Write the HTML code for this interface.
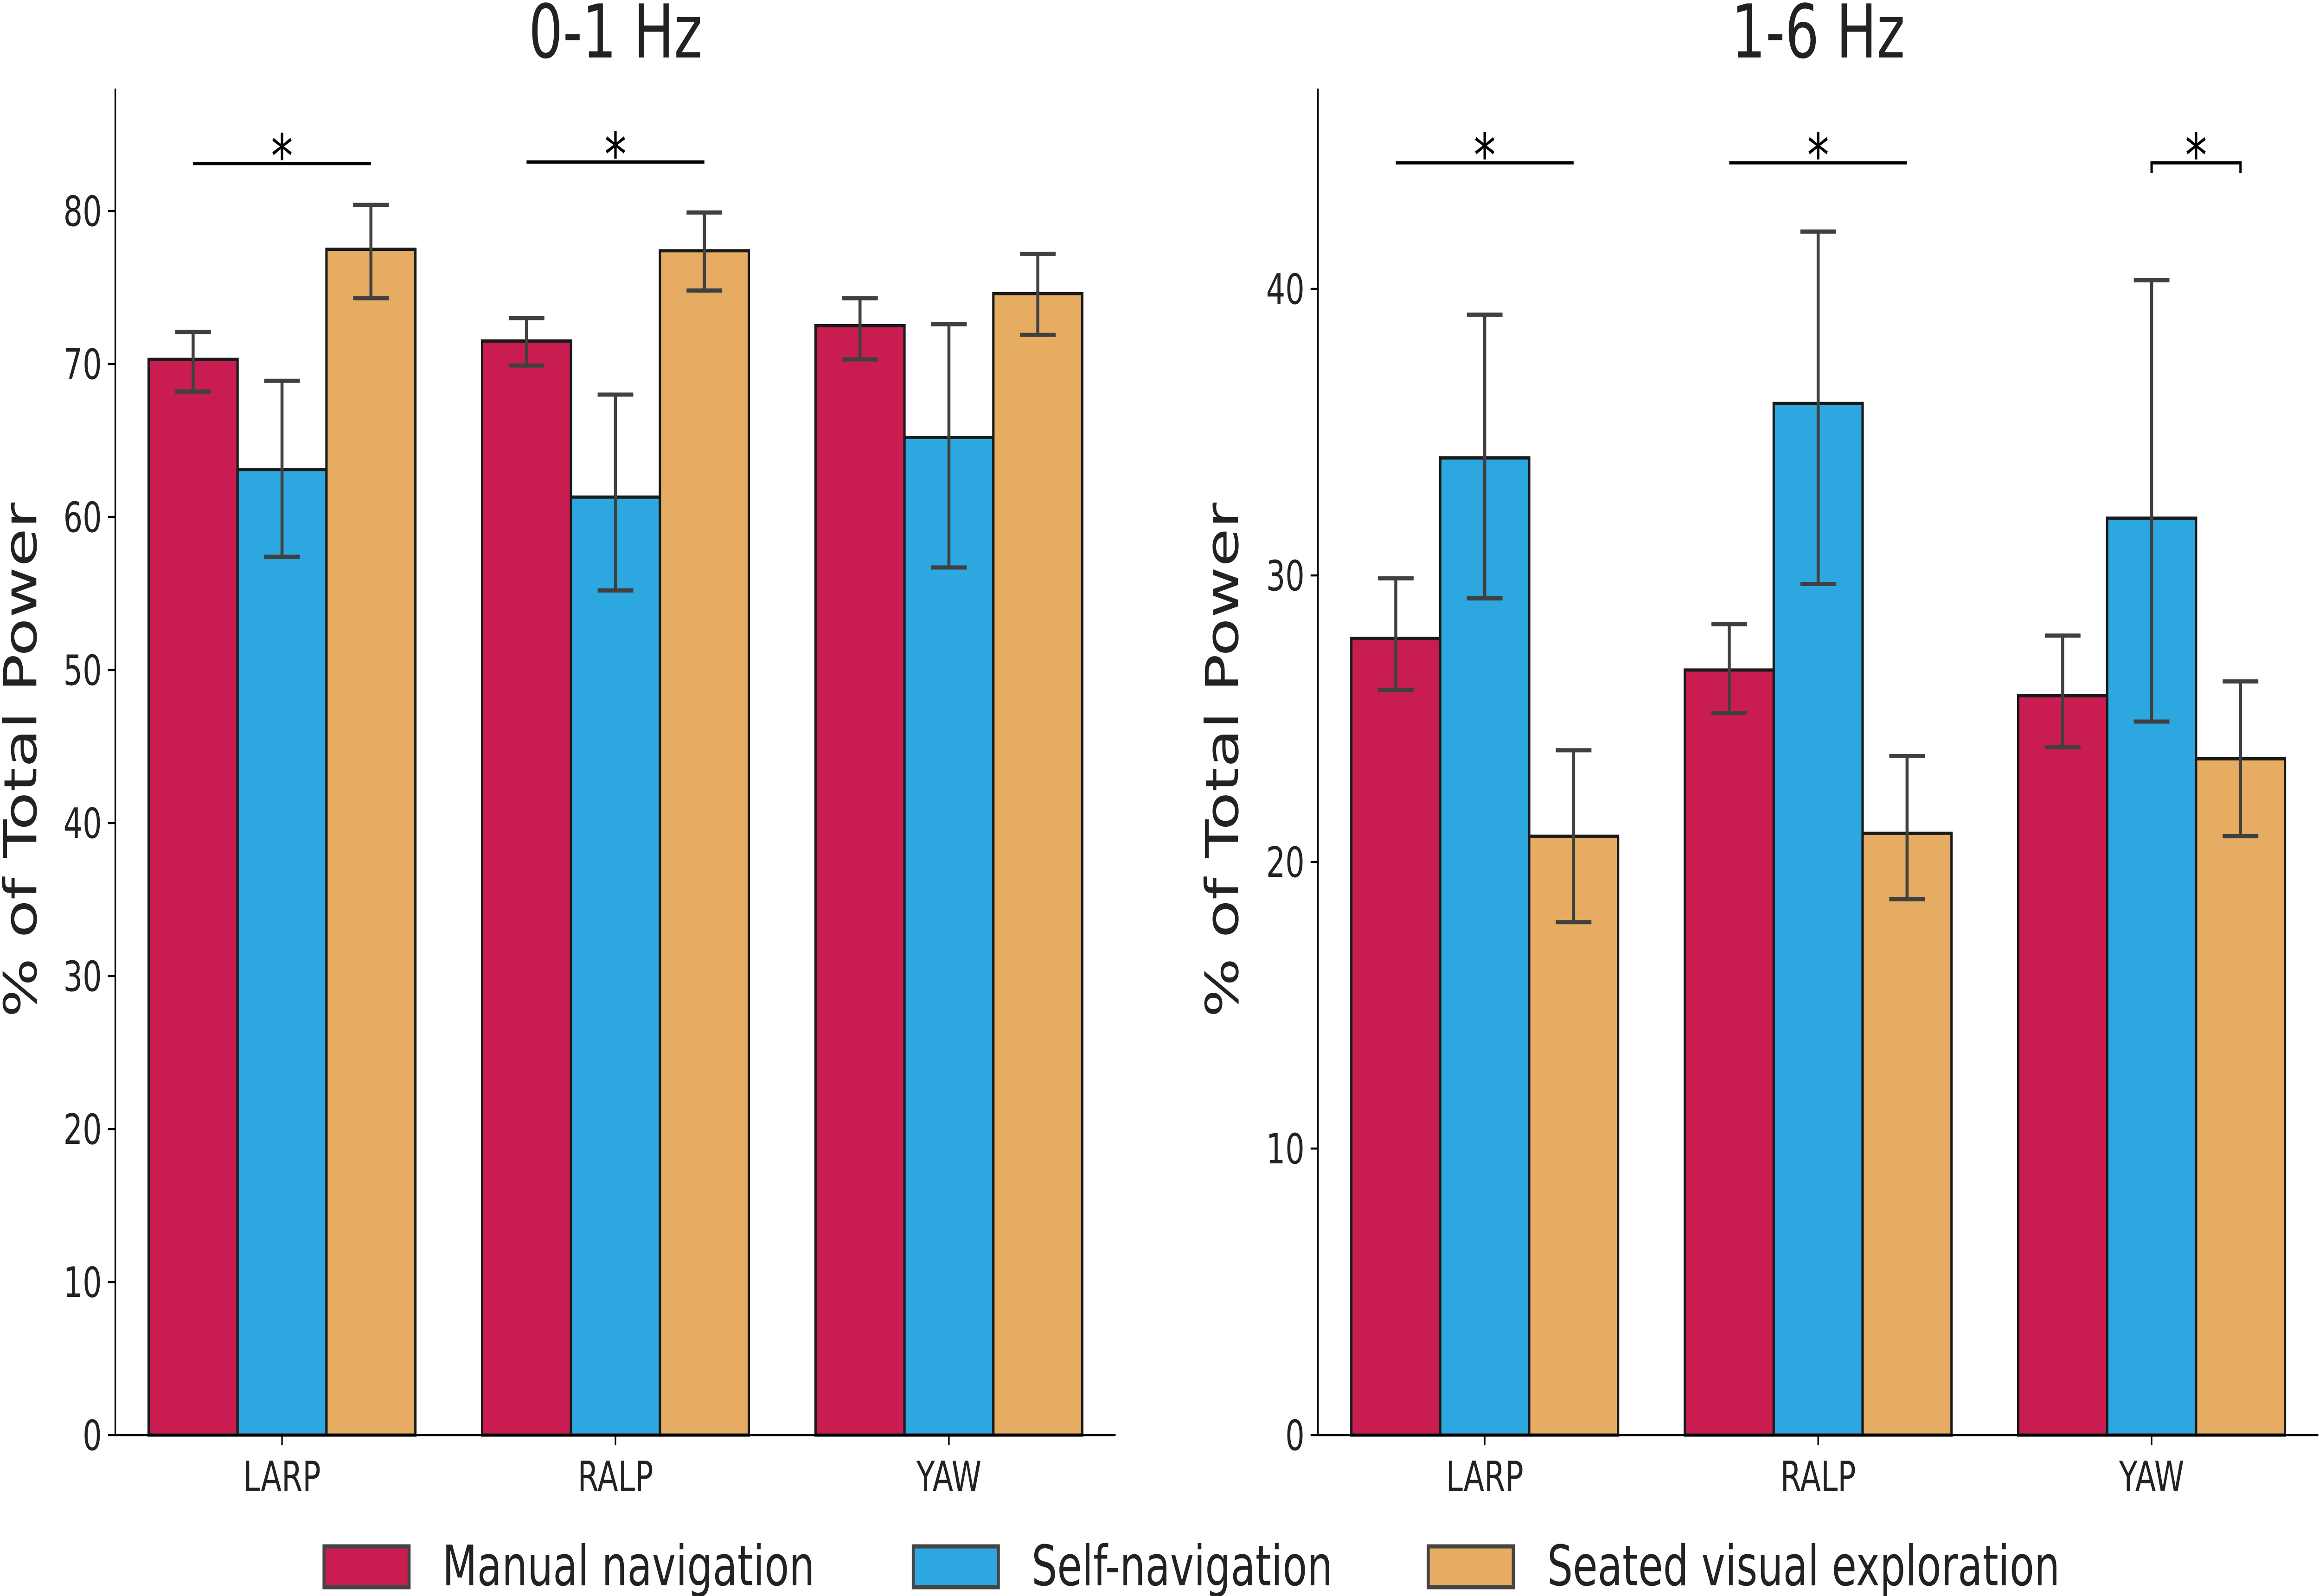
<!DOCTYPE html>
<html><head><meta charset="utf-8"><style>
html,body{margin:0;padding:0;background:#fff;width:100%;height:100%;overflow:hidden}
svg{display:block;font-family:"DejaVu Sans","Liberation Sans",sans-serif;width:100vw;height:100vh}
</style></head><body>
<svg id="chart" viewBox="0 0 6899 3442" preserveAspectRatio="none" xmlns="http://www.w3.org/2000/svg"></svg>
<script>
const categories = ["LARP","RALP","YAW"];
const seriesNames = ["Manual navigation","Self-navigation","Seated visual exploration"];
const colors = ["#C91D51","#2CA7E0","#E6AC62"];
// panel 1: 0-1 Hz
const p1Manual = [70.3, 71.5, 72.5];
const p1ManualLo = [68.2, 69.9, 70.3];
const p1ManualHi = [72.1, 73.0, 74.3];
const p1Self = [63.1, 61.3, 65.2];
const p1SelfLo = [57.4, 55.2, 56.7];
const p1SelfHi = [68.9, 68.0, 72.6];
const p1Seated = [77.5, 77.4, 74.6];
const p1SeatedLo = [74.3, 74.8, 71.9];
const p1SeatedHi = [80.4, 79.9, 77.2];
const p1Ticks = [0,10,20,30,40,50,60,70,80];
// panel 2: 1-6 Hz
const p2Manual = [27.8, 26.7, 25.8];
const p2ManualLo = [26.0, 25.2, 24.0];
const p2ManualHi = [29.9, 28.3, 27.9];
const p2Self = [34.1, 36.0, 32.0];
const p2SelfLo = [29.2, 29.7, 24.9];
const p2SelfHi = [39.1, 42.0, 40.3];
const p2Seated = [20.9, 21.0, 23.6];
const p2SeatedLo = [17.9, 18.7, 20.9];
const p2SeatedHi = [23.9, 23.7, 26.3];
const p2Ticks = [0,10,20,30,40];
// significance: [category, fromSeries, toSeries, level]
const p1Sig = [[0,0,2,83.1],[1,0,2,83.2]];
const p2Sig = [[0,0,2,44.4],[1,0,2,44.4],[2,1,2,44.4]];

const NS="http://www.w3.org/2000/svg";
const svg=document.getElementById('chart');
function mk(tag,attrs,parent){const e=document.createElementNS(NS,tag);for(const k in attrs)e.setAttribute(k,attrs[k]);(parent||svg).appendChild(e);return e;}

function panel(cfg){
  const g=mk('g',{});
  
  
  const x0=cfg.axisX, yBase=3095, yTop=191;
  const yScale=v=>yBase-v*cfg.pxPer;
  const unit=992;
  const xCat=i=>x0+unit*(i+0.5);
  const bw=264.5;
  const xBar=(i,s)=>xCat(i)+(s-1)*bw;
  const vals=[cfg.m,cfg.s,cfg.o], lo=[cfg.mLo,cfg.sLo,cfg.oLo], hi=[cfg.mHi,cfg.sHi,cfg.oHi];
  for(let s=0;s<3;s++){
    for(let i=0;i<categories.length;i++){
      const y=yScale(vals[s][i]);
      const r=mk('rect',{x:xBar(i,s)-bw/2,y:y,width:bw,height:yBase-y,fill:colors[s],stroke:'#1a1a1a','stroke-width':7},g);
      
      
    }
  }
  for(let s=0;s<3;s++){
    for(let i=0;i<categories.length;i++){
      const cx=xBar(i,s), yl=yScale(lo[s][i]), yh=yScale(hi[s][i]);
      const eb=mk('g',{stroke:'#404040','stroke-width':9,fill:'none'},g);
      
      
      mk('line',{x1:cx,x2:cx,y1:yl,y2:yh},eb);
      mk('line',{x1:cx-53,x2:cx+53,y1:yl,y2:yl},eb);
      mk('line',{x1:cx-53,x2:cx+53,y1:yh,y2:yh},eb);
    }
  }
  const ax=mk('g',{stroke:'#000','stroke-width':4.5},g);
  
  
  mk('line',{x1:x0,x2:x0,y1:yTop,y2:yBase},ax);
  mk('line',{x1:x0,x2:x0+unit*3,y1:yBase,y2:yBase},ax);
  cfg.ticks.forEach(t=>{
    const y=yScale(t);
    mk('line',{x1:x0-22,x2:x0,y1:y,y2:y,stroke:'#000','stroke-width':4.5},g);
    const tx=mk('text',{x:x0-40,y:y+32,'font-size':90,'text-anchor':'end',fill:'#222'},g);
    tx.textContent=t;
    
    
  });
  categories.forEach((c,i)=>{
    const x=xCat(i);
    mk('line',{x1:x,x2:x,y1:yBase,y2:yBase+22,stroke:'#000','stroke-width':4.5},g);
    const tx=mk('text',{x:x,y:3216,'font-size':90,'text-anchor':'middle',fill:'#222'},g);
    tx.textContent=c;
    
    
  });
  const yl=mk('text',{x:0,y:0,'font-size':135,'text-anchor':'middle',fill:'#222',transform:`translate(${cfg.ylabelX},1639) rotate(-90)`},g);
  yl.textContent='% of Total Power';
  
  
  const ti=mk('text',{x:xCat(1),y:124,'font-size':160,'text-anchor':'middle',fill:'#222'},g);
  ti.textContent=cfg.title;
  
  
  cfg.sig.forEach(sg=>{
    const xa=xBar(sg[0],sg[1]), xb=xBar(sg[0],sg[2]), y=yScale(sg[3]);
    const sgG=mk('g',{},g);
    
    
    const short=(sg[2]-sg[1])===1;
    if(short){
      mk('polyline',{points:`${xa},${y+22} ${xa},${y} ${xb},${y} ${xb},${y+22}`,fill:'none',stroke:'#000','stroke-width':7},sgG);
    } else {
      mk('line',{x1:xa,x2:xb,y1:y,y2:y,stroke:'#000','stroke-width':7},sgG);
    }
    const st=mk('text',{x:(xa+xb)/2,y:y+30,'font-size':130,'text-anchor':'middle',fill:'#000'},sgG);
    st.textContent='*';
  });
}
panel({name:'panel-0-1-hz',title:'0-1 Hz',axisX:343,pxPer:33.0,ticks:p1Ticks,ylabelX:108,
  m:p1Manual,mLo:p1ManualLo,mHi:p1ManualHi,s:p1Self,sLo:p1SelfLo,sHi:p1SelfHi,o:p1Seated,oLo:p1SeatedLo,oHi:p1SeatedHi,sig:p1Sig});
panel({name:'panel-1-6-hz',title:'1-6 Hz',axisX:3921,pxPer:61.8,ticks:p2Ticks,ylabelX:3683,
  m:p2Manual,mLo:p2ManualLo,mHi:p2ManualHi,s:p2Self,sLo:p2SelfLo,sHi:p2SelfHi,o:p2Seated,oLo:p2SeatedLo,oHi:p2SeatedHi,sig:p2Sig});

const legendBoxX=[964,2717,4249], legendTextX=[1316,3069,4603];
const lg=mk('g',{});


seriesNames.forEach((n,i)=>{
  const e=mk('g',{},lg);
  
  
  mk('rect',{x:legendBoxX[i],y:3335,width:253,height:88,fill:colors[i],stroke:'#444','stroke-width':9},e);
  const t=mk('text',{x:legendTextX[i],y:3419,'font-size':120,fill:'#222'},e);
  t.textContent=n;
});
</script>
</body></html>
